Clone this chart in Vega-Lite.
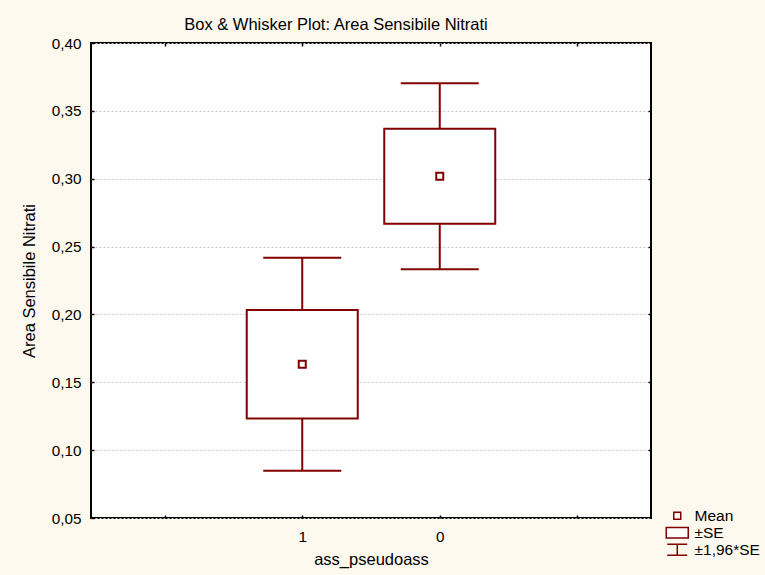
{
  "$schema": "https://vega.github.io/schema/vega-lite/v6.json",
  "width": 560,
  "height": 475,
  "autosize": {"type": "none"},
  "padding": {"left": 91, "top": 43, "right": 114, "bottom": 57},
  "background": "#fdf9ee",
  "title": {
    "text": "Box & Whisker Plot: Area Sensibile Nitrati",
    "font": "Liberation Sans",
    "fontSize": 16.5,
    "fontWeight": "normal",
    "color": "#000000",
    "anchor": "middle",
    "dx": -35,
    "baseline": "alphabetic",
    "offset": 14.7,
    "dy": 25
  },
  "config": {
    "view": {"fill": "#ffffff", "stroke": "#000000", "strokeWidth": 2},
    "font": "Liberation Sans",
    "axis": {
      "labelFont": "Liberation Sans",
      "titleFont": "Liberation Sans",
      "labelFontSize": 15.3,
      "titleFontSize": 16.5,
      "titleFontWeight": "normal",
      "labelColor": "#000000",
      "titleColor": "#000000",
      "domain": false,
      "tickColor": "#000000",
      "tickWidth": 1.5,
      "tickSize": -3
    }
  },
  "data": {
    "values": [
      {"grp": "1", "pos": 1, "stat": "Mean", "mean": 0.1633, "se_lo": 0.1233, "se_hi": 0.2033, "ci_lo": 0.0849, "ci_hi": 0.2417},
      {"grp": "0", "pos": 2, "stat": "Mean", "mean": 0.3018, "se_lo": 0.2668, "se_hi": 0.3368, "ci_lo": 0.2332, "ci_hi": 0.3704}
    ]
  },
  "encoding": {
    "x": {
      "field": "pos",
      "type": "quantitative",
      "scale": {"domain": [-0.5, 3.5], "nice": false, "zero": false}
    }
  },
  "layer": [
    {
      "mark": {"type": "rule", "color": "#800000", "strokeWidth": 2, "opacity": 1},
      "encoding": {
        "x": {
          "field": "pos",
          "type": "quantitative",
          "axis": {
            "orient": "bottom",
            "title": "ass_pseudoass",
            "values": [0, 1, 2, 3],
            "labelExpr": "datum.value == 1 ? '1' : datum.value == 2 ? '0' : ''",
            "labelPadding": 14,
            "titlePadding": 7,
            "grid": false
          }
        },
        "y": {
          "field": "ci_lo",
          "type": "quantitative",
          "scale": {"domain": [0.05, 0.40], "nice": false, "zero": false},
          "axis": {
            "orient": "left",
            "title": "Area Sensibile Nitrati",
            "values": [0.05, 0.10, 0.15, 0.20, 0.25, 0.30, 0.35, 0.40],
            "labelExpr": "replace(format(datum.value, '.2f'), '.', ',')",
            "labelPadding": 13,
            "titlePadding": 14,
            "grid": true,
            "gridColor": "#c8c8c8",
            "gridDash": [2, 2],
            "gridWidth": 1
          }
        },
        "y2": {"field": "ci_hi"}
      }
    },
    {
      "mark": {"type": "tick", "orient": "horizontal", "color": "#800000", "size": 78, "thickness": 2, "opacity": 1},
      "encoding": {
        "x": {
          "field": "pos",
          "type": "quantitative",
          "axis": {"orient": "top", "title": null, "labels": false, "values": [0, 1, 2, 3], "grid": false}
        },
        "y": {
          "field": "ci_lo",
          "type": "quantitative",
          "axis": {"orient": "right", "title": null, "labels": false, "values": [0.10, 0.15, 0.20, 0.25, 0.30, 0.35], "grid": false}
        }
      }
    },
    {
      "mark": {"type": "tick", "orient": "horizontal", "color": "#800000", "size": 78, "thickness": 2, "opacity": 1},
      "encoding": {
        "x": {"field": "pos", "type": "quantitative", "axis": null},
        "y": {"field": "ci_hi", "type": "quantitative", "axis": null}
      }
    },
    {
      "mark": {"type": "bar", "width": 111, "fill": "#ffffff", "stroke": "#800000", "strokeWidth": 2, "opacity": 1},
      "encoding": {
        "x": {"field": "pos", "type": "quantitative", "axis": null},
        "y": {"field": "se_lo", "type": "quantitative", "axis": null},
        "y2": {"field": "se_hi"}
      }
    },
    {
      "mark": {"type": "point", "filled": true, "fill": "#ffffff", "stroke": "#800000", "strokeWidth": 2, "size": 49, "opacity": 1},
      "encoding": {
        "x": {"field": "pos", "type": "quantitative", "axis": null},
        "y": {"field": "mean", "type": "quantitative", "axis": null},
        "shape": {
          "field": "stat",
          "type": "nominal",
          "scale": {
            "domain": ["Mean", "±SE", "±1,96*SE"],
            "range": [
              "M-1,-1H1V1H-1Z",
              "M-3.14,-1.5H3.14V1.5H-3.14Z",
              "M-2.86,-1.6H2.86M0,-1.6V1.6M-2.86,1.6H2.86"
            ]
          },
          "legend": {
            "title": null,
            "orient": "none",
            "legendX": 578.5,
            "legendY": 465,
            "padding": 0,
            "symbolSize": 49,
            "labelFont": "Liberation Sans",
            "labelFontSize": 15.5,
            "labelColor": "#000000",
            "labelOffset": 9.5,
            "rowPadding": -2,
            "encode": {
              "symbols": {
                "update": {
                  "fill": {"value": "#ffffff"},
                  "stroke": {"value": "#800000"},
                  "strokeWidth": {"value": 2},
                  "opacity": {"value": 1}
                }
              }
            }
          }
        }
      }
    }
  ],
  "resolve": {"axis": {"x": "independent", "y": "independent"}}
}
